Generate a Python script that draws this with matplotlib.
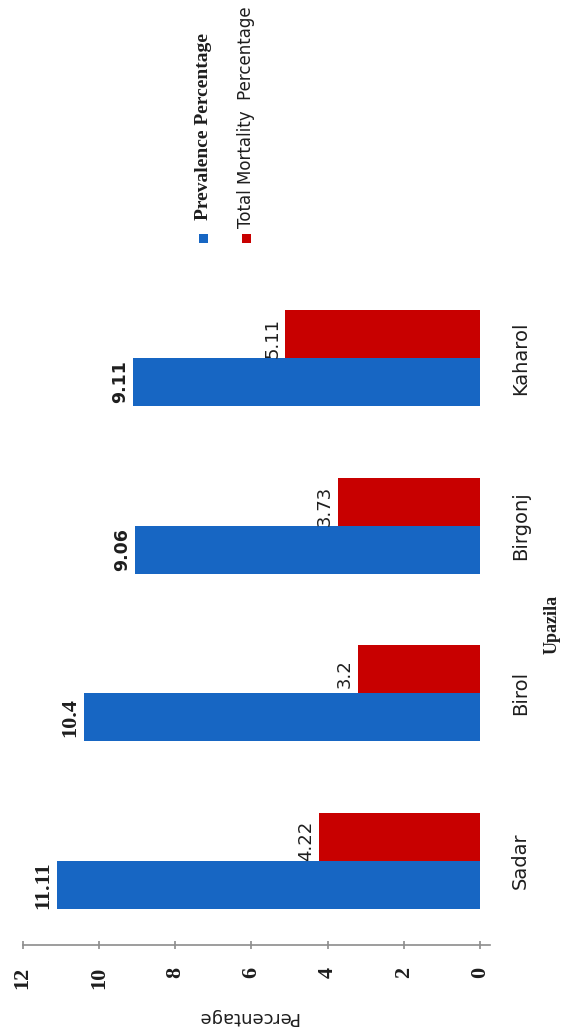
import matplotlib
matplotlib.use("Agg")
import matplotlib.pyplot as plt
from matplotlib.patches import Rectangle
import numpy as np

# ---- data ----
upazilas = ["Sadar", "Birol", "Birgonj", "Kaharol"]
prevalence = [11.11, 10.4, 9.06, 9.11]
mortality = [4.22, 3.2, 3.73, 5.11]
value_ticks = [0, 2, 4, 6, 8, 10, 12]
series_names = ["Prevalence Percentage", "Total Mortality  Percentage"]
x_title = "Upazila"
y_title = "Percentage"

# ---- style ----
BLUE = "#1766c3"
RED = "#c80000"
GRAY = "#8c8c8c"
TXT = "#1e1e1e"
W, H = 569, 1035
blue_label_fonts = [("Liberation Serif", "bold", 16), ("Liberation Serif", "bold", 16),
                    ("DejaVu Sans", "bold", 12.5), ("DejaVu Sans", "bold", 12.5)]

def fx(px):
    return px / W

def fy(py):
    return (H - py) / H

fig = plt.figure(figsize=(W / 100, H / 100), dpi=100, facecolor="white")
ax = fig.add_axes([fx(22.7), fy(945), (490 - 22.7) / W, (945 - 274) / H])
ax.set_facecolor("none")

pos = np.arange(len(upazilas))
bw = 0.286
ax.barh(pos - bw / 2, prevalence, height=bw, color=BLUE, label=series_names[0])
ax.barh(pos + bw / 2, mortality, height=bw, color=RED, label=series_names[1])

ax.set_xlim(12, -0.26)
ax.set_ylim(-0.5, len(upazilas) - 0.5)

# value labels (placed just beyond bar ends)
for i, v in enumerate(prevalence):
    fam, wt, fs = blue_label_fonts[i]
    ax.annotate(f"{v:g}", xy=(v, pos[i] - bw / 2), xytext=(-2.5, 0),
                textcoords="offset points", rotation=90, ha="right", va="center",
                fontsize=fs, family=fam, fontweight=wt, color=TXT)
for i, v in enumerate(mortality):
    ax.annotate(f"{v:g}", xy=(v, pos[i] + bw / 2), xytext=(-3, -3),
                textcoords="offset points", rotation=90, ha="right", va="center",
                fontsize=13, family="DejaVu Sans", color=TXT)

# value axis (bottom)
for s in ["top", "left", "right"]:
    ax.spines[s].set_visible(False)
ax.spines["bottom"].set_color(GRAY)
ax.spines["bottom"].set_linewidth(1.2)
ax.set_xticks(value_ticks)
ax.set_xticklabels([str(t) for t in value_ticks], rotation=90,
                   family="Liberation Serif", fontweight="bold", fontsize=16, color=TXT)
ax.tick_params(axis="x", direction="inout", length=6, width=1.2, color=GRAY, pad=13)

# category axis (right side)
ax.yaxis.tick_right()
ax.set_yticks(pos)
ax.set_yticklabels(upazilas, rotation=90, va="center", family="DejaVu Sans",
                   fontsize=14, color=TXT)
ax.tick_params(axis="y", length=0, pad=15)

# axis titles
fig.text(fx(552), fy(624), x_title, rotation=90, ha="center", va="center",
         family="Liberation Serif", fontweight="bold", fontsize=13, color=TXT)
fig.text(fx(247), fy(1017), y_title, rotation=180, ha="center", va="center",
         family="DejaVu Sans", fontsize=13, color=TXT)

# legend (rotated)
sq = 9
for cx, col, name, start, fam, wt, fs in [
        (203, BLUE, series_names[0], 220, "Liberation Serif", "bold", 14),
        (246, RED, series_names[1], 228, "DejaVu Sans", "normal", 12)]:
    fig.add_artist(Rectangle((fx(cx - sq / 2), fy(238 + sq / 2)), sq / W, sq / H,
                             transform=fig.transFigure, facecolor=col, edgecolor="none"))
    fig.text(fx(cx), fy(start), name, rotation=90, ha="center", va="bottom",
             family=fam, fontweight=wt, fontsize=fs, color=TXT)

fig.savefig("out.png", dpi=100, facecolor="white")
